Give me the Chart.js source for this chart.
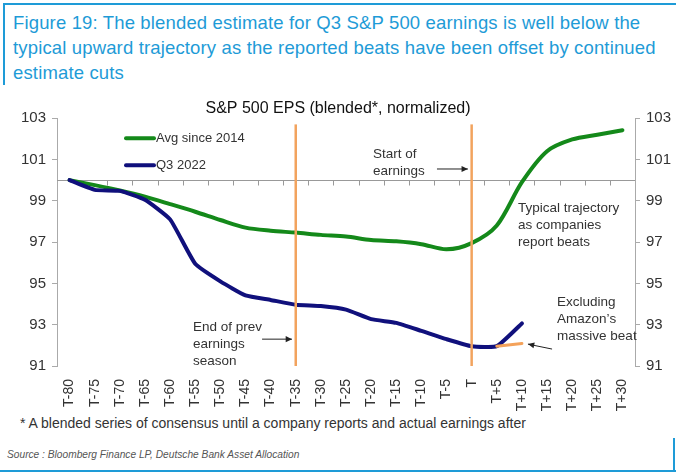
<!DOCTYPE html>
<html>
<head>
<meta charset="utf-8">
<script src="https://cdn.jsdelivr.net/npm/chart.js@4.4.1/dist/chart.umd.min.js"></script>
<style>
  html, body { margin: 0; padding: 0; background: #fff; }
  body { width: 676px; height: 474px; position: relative; overflow: hidden; font-family: "Liberation Sans", Arial, sans-serif; }
  .rule { position: absolute; background: #1e9bd7; }
  #title { position: absolute; left: 13px; top: 10px; width: 662px; color: #1e9bd7; font-size: 18.5px; letter-spacing: 0.15px; line-height: 25px; white-space: nowrap; }
  #wrap { position: absolute; left: 0; top: 96px; width: 676px; height: 318px; }
  #note { position: absolute; left: 20px; top: 415px; font-size: 14px; line-height: 16px; color: #333; }
  #source { position: absolute; left: 7px; top: 448px; font-size: 10.2px; line-height: 13px; font-style: italic; color: #555; }
</style>
</head>
<body>
<div class="rule" style="left:3px;top:3px;width:673px;height:2px"></div>
<div class="rule" style="left:3px;top:3px;width:2px;height:82px"></div>
<div id="title">Figure 19: The blended estimate for Q3 S&amp;P 500 earnings is well below the<br>typical upward trajectory as the reported beats have been offset by continued<br>estimate cuts</div>
<div id="wrap"><canvas id="chart"></canvas></div>
<div id="note">* A blended series of consensus until a company reports and actual earnings after</div>
<div id="source">Source : Bloomberg Finance LP, Deutsche Bank Asset Allocation</div>
<div class="rule" style="left:0;top:470px;width:676px;height:2px"></div>
<div class="rule" style="left:673px;top:438px;width:2px;height:34px"></div>

<script>
// trading days relative to start of earnings season (T)
const days = ['T-80', 'T-75', 'T-70', 'T-65', 'T-60', 'T-55', 'T-50', 'T-45', 'T-40', 'T-35', 'T-30',
  'T-25', 'T-20', 'T-15', 'T-10', 'T-5', 'T', 'T+5', 'T+10', 'T+15', 'T+20', 'T+25', 'T+30'];

const avgSince2014 = [100, 99.76, 99.5, 99.2, 98.84, 98.47, 98.07, 97.7, 97.55, 97.46, 97.35,
  97.27, 97.1, 97.04, 96.9, 96.65, 96.95, 97.8, 99.9, 101.4, 101.97, 102.2, 102.42];

const q3_2022 = [100, 99.53, 99.48, 99.05, 98.1, 95.95, 95.1, 94.42, 94.2, 93.97, 93.9,
  93.73, 93.27, 93.09, 92.7, 92.3, 91.96, 91.96, 93.06, null, null, null, null];

const exAmazon = [null, null, null, null, null, null, null, null, null, null, null,
  null, null, null, null, null, null, 91.96, 92.09, null, null, null, null];

const yTicks = [91, 93, 95, 97, 99, 101, 103];
const markers = ['T-35', 'T'];

const GREEN = '#14891a', NAVY = '#10107c', ORANGE = '#f2a35e', TEXT = '#333';

function arrow(ctx, x1, y1, x2, y2) {
  var ang = Math.atan2(y2 - y1, x2 - x1);
  ctx.beginPath();
  ctx.moveTo(x1, y1);
  ctx.lineTo(x2, y2);
  ctx.stroke();
  ctx.beginPath();
  ctx.moveTo(x2, y2);
  ctx.lineTo(x2 - 7 * Math.cos(ang - 0.45), y2 - 7 * Math.sin(ang - 0.45));
  ctx.lineTo(x2 - 7 * Math.cos(ang + 0.45), y2 - 7 * Math.sin(ang + 0.45));
  ctx.closePath();
  ctx.fill();
}

// text notes, placed at (category index, value)
const notes = [
  { lines: ['Start of', 'earnings'], at: [12.07, 101.27] },
  { lines: ['Typical trajectory', 'as companies', 'report beats'], at: [17.84, 98.66] },
  { lines: ['End of prev', 'earnings', 'season'], at: [4.91, 92.88] },
  { lines: ['Excluding', 'Amazon\u2019s', 'massive beat'], at: [19.4, 94.08] }
];
const arrows = [
  [14.62, 100.54, 15.85, 100.54],
  [7.66, 92.30, 8.85, 92.30],
  [19.2, 91.82, 18.24, 92.06]
];

const decor = {
  id: 'decor',
  beforeDatasetsDraw(chart) {
    const { ctx, chartArea: a, scales: { x, y } } = chart;
    const y0 = Math.round(y.getPixelForValue(100)) + 0.5;
    ctx.save();
    ctx.strokeStyle = '#999';
    ctx.lineWidth = 1;
    ctx.beginPath();
    ctx.moveTo(a.left, y0);
    ctx.lineTo(a.right, y0);
    for (let i = 1; i < days.length; i++) {
      const px = Math.round((x.getPixelForValue(i - 1) + x.getPixelForValue(i)) / 2) + 0.5;
      ctx.moveTo(px, y0);
      ctx.lineTo(px, y0 + 5);
    }
    ctx.stroke();
    ctx.restore();
  },
  afterDatasetsDraw(chart) {
    const { ctx, chartArea: a, scales: { x, y } } = chart;
    ctx.save();
    // start / end of season markers
    ctx.strokeStyle = ORANGE;
    ctx.lineWidth = 2.5;
    markers.forEach(function (m) {
      const px = x.getPixelForValue(days.indexOf(m));
      ctx.beginPath();
      ctx.moveTo(px, y.getPixelForValue(102.7));
      ctx.lineTo(px, a.bottom);
      ctx.stroke();
    });

    // legend
    ctx.lineWidth = 4;
    ctx.lineCap = 'round';
    ctx.font = '13px "Liberation Sans", Arial, sans-serif';
    ctx.fillStyle = TEXT;
    ctx.textBaseline = 'middle';
    [[GREEN, 'Avg since 2014', 20], [NAVY, 'Q3 2022', 47]].forEach(function (l) {
      ctx.strokeStyle = l[0];
      ctx.beginPath();
      ctx.moveTo(a.left + 69, a.top + l[2]);
      ctx.lineTo(a.left + 97, a.top + l[2]);
      ctx.stroke();
      ctx.fillText(l[1], a.left + 99, a.top + l[2]);
    });

    // notes
    ctx.font = '13.5px "Liberation Sans", Arial, sans-serif';
    notes.forEach(function (n) {
      const px = x.getPixelForValue(n.at[0]);
      const py = y.getPixelForValue(n.at[1]);
      n.lines.forEach(function (t, i) {
        ctx.fillText(t, px, py + i * 17);
      });
    });

    ctx.strokeStyle = '#222';
    ctx.fillStyle = '#222';
    ctx.lineWidth = 1;
    ctx.lineCap = 'butt';
    arrows.forEach(function (r) {
      arrow(ctx, x.getPixelForValue(r[0]), y.getPixelForValue(r[1]),
        x.getPixelForValue(r[2]), y.getPixelForValue(r[3]));
    });
    ctx.restore();
  }
};

const tickFont = { family: '"Liberation Sans", Arial, sans-serif', size: 15 };

function yAxis(pos, width) {
  return {
    position: pos,
    min: 91,
    max: 103,
    afterBuildTicks: function (s) { s.ticks = yTicks.map(function (v) { return { value: v }; }); },
    afterFit: function (s) { s.width = width; },
    border: { display: true, color: '#aaa' },
    grid: { drawOnChartArea: false, drawTicks: true, tickLength: 5, color: '#aaa' },
    ticks: { color: TEXT, font: tickFont, padding: 6 }
  };
}

new Chart(document.getElementById('chart'), {
  type: 'line',
  data: {
    labels: days,
    datasets: [
      { label: 'Avg since 2014', data: avgSince2014, borderColor: GREEN, borderWidth: 4, tension: 0.3, order: 3 },
      { label: 'Q3 2022', data: q3_2022, borderColor: NAVY, borderWidth: 4, tension: 0.15, order: 2 },
      { label: 'Excluding Amazon', data: exAmazon, borderColor: '#f4a25a', borderWidth: 3, tension: 0, order: 1 }
    ]
  },
  options: {
    responsive: true,
    maintainAspectRatio: false,
    animation: false,
    elements: { point: { radius: 0 }, line: { borderCapStyle: 'round', borderJoinStyle: 'round' } },
    layout: { padding: 0 },
    plugins: {
      legend: { display: false },
      tooltip: { enabled: false },
      title: {
        display: true,
        text: 'S&P 500 EPS (blended*, normalized)',
        color: '#111',
        font: { family: '"Liberation Sans", Arial, sans-serif', size: 16, weight: 'normal' },
        padding: { top: 3, bottom: 0 }
      }
    },
    scales: {
      x: {
        offset: true,
        afterFit: function (s) { s.height = 48; },
        border: { display: false },
        grid: { display: false },
        ticks: { color: TEXT, font: { family: '"Liberation Sans", Arial, sans-serif', size: 14 },
          minRotation: 90, maxRotation: 90, autoSkip: false, padding: 5 }
      },
      y: yAxis('left', 57),
      y2: yAxis('right', 41)
    }
  },
  plugins: [decor]
});
</script>
</body>
</html>
